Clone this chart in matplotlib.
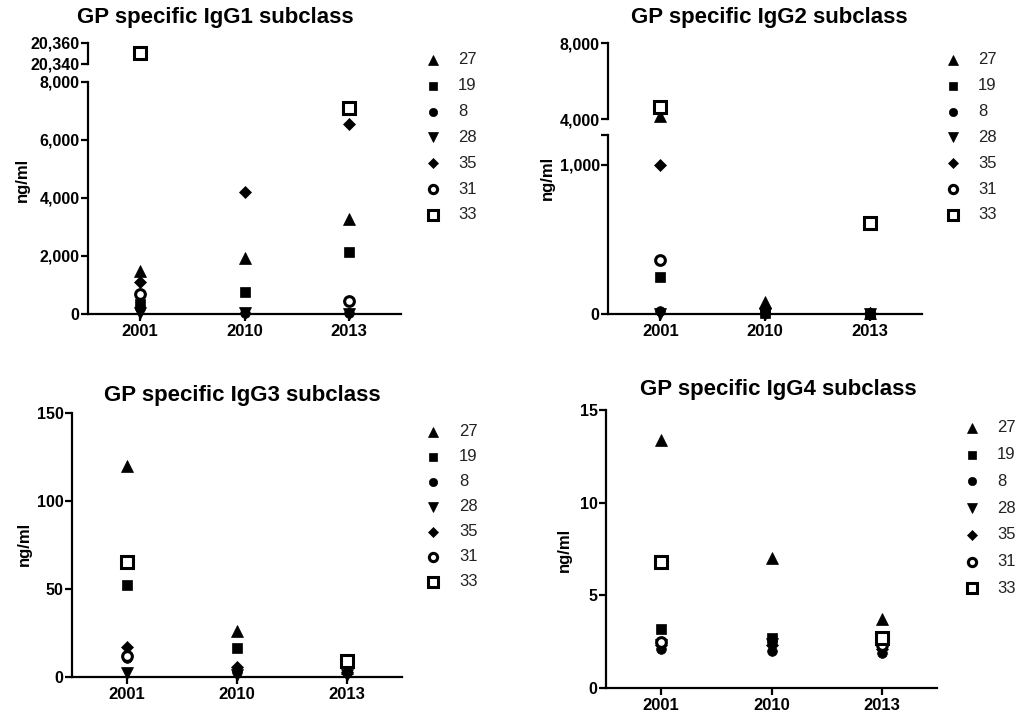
import numpy as np
import matplotlib
matplotlib.use("Agg")
import matplotlib.pyplot as plt
from matplotlib.ticker import FuncFormatter, FixedLocator

plt.rcParams.update({
    "font.family": ["Liberation Sans", "DejaVu Sans"],
    "axes.linewidth": 1.6,
    "xtick.major.width": 1.6,
    "ytick.major.width": 1.6,
    "xtick.major.size": 5,
    "ytick.major.size": 5,
})

YEARS = ["2001", "2010", "2013"]
SUBJECTS = ["27", "19", "8", "28", "35", "31", "33"]
nan = np.nan

# values per subject (rows, SUBJECTS order) for 2001, 2010, 2013 (ng/ml)
IGG1 = [
    [1500, 1920, 3265],
    [350, 770, 2150],
    [200, 50, 20],
    [20, 30, 0],
    [1120, 4220, 6540],
    [680, nan, 460],
    [20350, nan, 7090],
]
IGG2 = [
    [4170, 80, 5],
    [250, 10, 3],
    [22, 5, 2],
    [0, 0, 0],
    [1000, 40, 8],
    [362, nan, nan],
    [4630, nan, 609],
]
IGG3 = [
    [120, 26, 5],
    [52, 16.5, 8],
    [11, 3, 2],
    [2.3, 1, 1],
    [17, 5.7, 3],
    [12, nan, nan],
    [65.5, nan, 9],
]
IGG4 = [
    [13.4, 7.0, 3.7],
    [3.2, 2.7, 2.5],
    [2.1, 2.0, 1.9],
    [2.3, 2.4, 2.2],
    [2.3, 2.3, 2.1],
    [2.5, nan, 2.3],
    [6.8, nan, 2.7],
]

STYLES = [
    dict(marker="^", ms=8, mfc="black", mec="black", mew=0.5),
    dict(marker="s", ms=7, mfc="black", mec="black", mew=0.5),
    dict(marker="o", ms=7, mfc="black", mec="black", mew=0.5),
    dict(marker="v", ms=8, mfc="black", mec="black", mew=0.5),
    dict(marker="D", ms=6.5, mfc="black", mec="black", mew=0.5),
    dict(marker="o", ms=7, mfc="white", mec="black", mew=2.2),
    dict(marker="s", ms=8, mfc="white", mec="black", mew=2.2),
]

W, H = 1030, 715
fig = plt.figure(figsize=(W / 100, H / 100), dpi=100)


def px_axes(x0, y0, x1, y1):
    return fig.add_axes([x0 / W, 1 - y1 / H, (x1 - x0) / W, (y1 - y0) / H])


comma = FuncFormatter(lambda v, p: f"{v:,.0f}")


def style_axis(ax, ylim, yticks, bottom=True):
    for s in ["top", "right"]:
        ax.spines[s].set_visible(False)
    ax.set_xlim(-0.5, 2.5)
    ax.set_ylim(*ylim)
    ax.yaxis.set_major_locator(FixedLocator(yticks))
    ax.yaxis.set_major_formatter(comma)
    ax.tick_params(axis="y", pad=1)
    for lab in ax.get_yticklabels():
        lab.set_fontsize(11.5); lab.set_fontweight("bold")
    if bottom:
        ax.set_xticks(range(len(YEARS)))
        ax.set_xticklabels(YEARS, fontsize=12, fontweight="bold")
        ax.tick_params(axis="x", pad=2)
    else:
        ax.spines["bottom"].set_visible(False)
        ax.set_xticks([])
    ax.set_facecolor("none")


def draw_points(ax, data, lo=-np.inf, hi=np.inf):
    # only points inside this axis segment, so broken axes don't repeat marks
    x = np.arange(len(YEARS))
    for row, st in zip(data, STYLES):
        y = np.array(row, dtype=float)
        y = np.where((y >= lo) & (y <= hi), y, np.nan)
        ax.plot(x, y, ls="none", clip_on=False, zorder=3, **st)


# Panel 1: IgG1 with broken axis
a1 = px_axes(88, 82, 401, 314)
a1u = px_axes(88, 43, 401, 64)
draw_points(a1, IGG1, hi=8000)
draw_points(a1u, IGG1, lo=20340)
style_axis(a1, (0, 8000), [0, 2000, 4000, 6000, 8000])
style_axis(a1u, (20340, 20360), [20340, 20360], bottom=False)

# Panel 2: IgG2 with broken axis
a2 = px_axes(608, 135, 922, 314)
a2u = px_axes(608, 43, 922, 119)
draw_points(a2, IGG2, hi=1200)
draw_points(a2u, IGG2, lo=3800)
style_axis(a2, (0, 1200), [0, 1000, 1200])
a2.set_yticklabels(["0", "1,000", ""], fontsize=11.5, fontweight="bold")
style_axis(a2u, (4000, 8000), [4000, 8000], bottom=False)

# Panel 3: IgG3
a3 = px_axes(72, 413, 402, 677)
draw_points(a3, IGG3)
style_axis(a3, (0, 150), [0, 50, 100, 150])

# Panel 4: IgG4
a4 = px_axes(606, 410, 937, 688)
draw_points(a4, IGG4)
style_axis(a4, (0, 15), [0, 5, 10, 15])

# overlay in pixel coordinates for titles, y labels and legends
ov = fig.add_axes([0, 0, 1, 1])
ov.set_xlim(0, W); ov.set_ylim(H, 0); ov.axis("off")

TITLES = [("GP specific IgG1 subclass", 215, 17),
          ("GP specific IgG2 subclass", 769, 17),
          ("GP specific IgG3 subclass", 242, 395),
          ("GP specific IgG4 subclass", 778, 390)]
for t, x, y in TITLES:
    ov.text(x, y, t, ha="center", va="center", fontsize=16, fontweight="bold")

for x, y in [(22, 180), (547, 178), (24, 544), (564, 550)]:
    ov.text(x, y, "ng/ml", rotation=90, ha="center", va="center",
            fontsize=12, fontweight="bold")

LEGENDS = [(433, 458, 60, 25.8), (953, 978, 60, 25.8),
           (433, 459, 431.7, 25.0), (972, 997, 428, 26.7)]
for mx, tx, y0, dy in LEGENDS:
    for i, (lab, st) in enumerate(zip(SUBJECTS, STYLES)):
        y = y0 + i * dy
        leg_st = dict(st, ms=st["ms"] * 0.85)
        ov.plot([mx], [y], ls="none", **leg_st)
        ov.text(tx, y, lab, ha="left", va="center", fontsize=12, color="#222222")

fig.savefig("out.png", dpi=100)
